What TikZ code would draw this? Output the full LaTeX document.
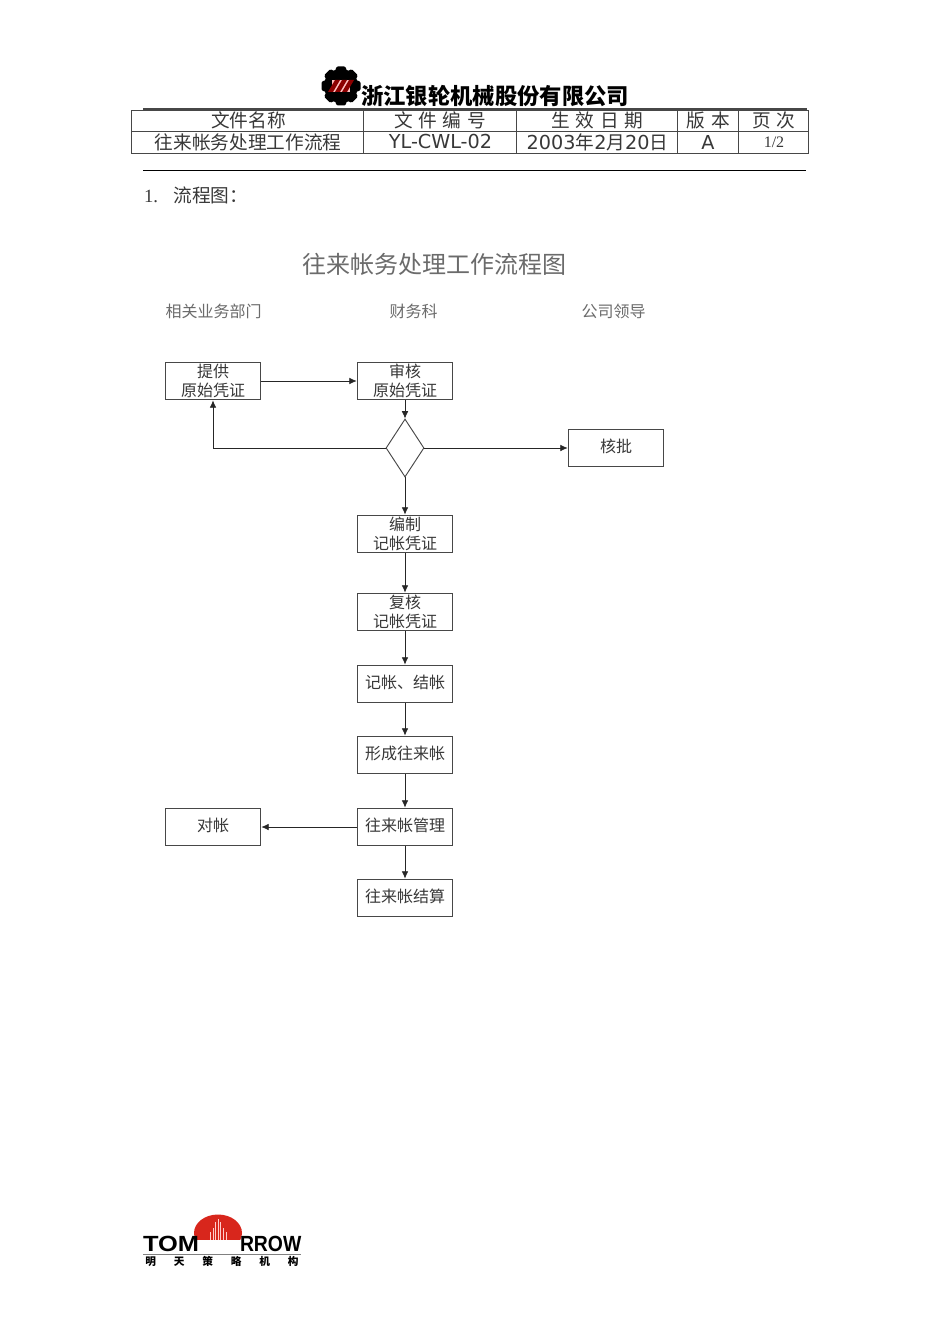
\documentclass[tikz,border=0pt]{standalone}
\usepackage{fontspec}
\usepackage{graphicx}
\setmainfont{Noto Sans CJK SC}
\newfontfamily\latinser{Liberation Serif}
\newfontfamily\latinsan[Scale=1.03]{DejaVu Sans}
\newfontfamily\logosan{Liberation Sans}
\usetikzlibrary{shapes.geometric,arrows.meta}
\definecolor{inktext}{gray}{0.22}
\definecolor{greytext}{gray}{0.42}
\definecolor{rulecol}{gray}{0.28}
\definecolor{logored}{HTML}{D8261C}
\newcommand{\fsz}[1]{\fontsize{#1}{#1}\selectfont}
\tikzset{
  x=0.75pt,y=-0.75pt,
  lbl/.style={inner sep=0pt,outer sep=0pt,text=inktext,font=\fsz{14}},
  cell/.style={lbl},
  boxbase/.style={draw=rulecol,line width=0.7pt,rectangle,minimum width=71.8pt,minimum height=28.4pt,inner sep=0pt,text=inktext},
  flowbox/.style={boxbase,font=\fsz{12},text height=9.5pt,text depth=2.5pt},
  twoline/.style={boxbase,align=center,font=\fontsize{12}{14.25}\selectfont},
  choice/.style={draw=rulecol,line width=0.7pt,diamond,aspect=0.655,minimum width=28.5pt,minimum height=43.5pt,inner sep=0pt},
  head/.style={lbl,text=greytext,font=\fsz{12}},
  flow/.style={draw=black!85,line width=0.6pt,-{Latex[length=5.5pt,width=5pt]}},
  tabline/.style={draw=rulecol,line width=0.7pt},
}
\begin{document}
\begin{tikzpicture}
\useasboundingbox[fill=white] (0,0) rectangle (950,1344);

% gear logo
\fill[black] (341,86) circle (17);
\foreach \a in {0,45,...,315}{
  \fill[black,rotate around={\a:(341,86)},rounded corners=1pt] (336.5,66.5) -- (345.5,66.5) -- (348,75) -- (334,75) -- cycle;
}
\fill[white!75!red] (332,80) rectangle (350,92);
\fill[red!55!black] (328,92) -- (335,80) -- (340,80) -- (333,92) -- cycle;
\fill[red!55!black] (335,92) -- (342,80) -- (347,80) -- (340,92) -- cycle;
\fill[red!55!black] (342,92) -- (349,80) -- (354,80) -- (347,92) -- cycle;

% header
\node[lbl,anchor=west,text=black,font=\fsz{16.75}\bfseries] (company) at (361,96) {浙江银轮机械股份有限公司};
\draw[tabline] (131.5,110) rectangle (808,153);
\draw[tabline] (131.5,131) -- (808,131);
\foreach \xx in {363.5,516.5,677.5,738.5}{\draw[tabline] (\xx,110) -- (\xx,153);}
\draw[draw=rulecol,line width=1.5pt] (143,108.8) -- (807,108.8);

\node[cell] (c1) at (248.5,120) {文件名称};
\node[cell] (c2) at (440,120) {文\hspace{4.3pt}件\hspace{4.3pt}编\hspace{4.3pt}号};
\node[cell] (c3) at (597.5,120) {生\hspace{4.3pt}效\hspace{4.3pt}日\hspace{4.3pt}期};
\node[cell] (c4) at (708.5,120) {版\hspace{4.3pt}本};
\node[cell] (c5) at (774,120) {页\hspace{4.3pt}次};
\node[cell] (d1) at (248,142) {往来帐务处理工作流程};
\node[cell] (d2) at (440.5,142) {\latinsan YL-CWL-02};
\node[cell] (d3) at (597.5,142) {{\latinsan 2003}年{\latinsan 2}月{\latinsan 20}日};
\node[cell] (d4) at (708,142) {\latinsan A};
\node[cell,font=\fsz{12}] (d5) at (774,142) {\latinser 1/2};

\draw[draw=black,line width=0.7pt] (143,170) -- (806,170);
\node[lbl,anchor=west] (sec) at (144,195) {{\latinser 1.}\hspace{11.5pt}流程图：};

% titles
\node[lbl,text=greytext,font=\fsz{18}] (title) at (434.5,264) {往来帐务处理工作流程图};
\node[head] (h1) at (213.5,311) {相关业务部门};
\node[head] (h2) at (413.5,311) {财务科};
\node[head] (h3) at (613.5,311) {公司领导};

% flow nodes
\node[twoline] (a1) at (213,381) {提供\\原始凭证};
\node[twoline] (a2) at (405,381) {审核\\原始凭证};
\node[choice]  (q)  at (405,448) {};
\node[flowbox] (a3) at (616,448) {核批};
\node[twoline] (b1) at (405,534) {编制\\记帐凭证};
\node[twoline] (b2) at (405,612) {复核\\记帐凭证};
\node[flowbox] (b3) at (405,684) {记帐、结帐};
\node[flowbox] (b4) at (405,755) {形成往来帐};
\node[flowbox] (b5) at (405,827) {往来帐管理};
\node[flowbox] (b6) at (405,898) {往来帐结算};
\node[flowbox] (b7) at (213,827) {对帐};

% connectors
\draw[flow] (a1) -- (a2);
\draw[flow] (a2) -- (q);
\draw[flow] (q.west) -| (a1.south);
\draw[flow] (q.east) -- (a3.west);
\draw[flow] (q.south) -- (b1.north);
\draw[flow] (b1) -- (b2);
\draw[flow] (b2) -- (b3);
\draw[flow] (b3) -- (b4);
\draw[flow] (b4) -- (b5);
\draw[flow] (b5) -- (b6);
\draw[flow] (b5) -- (b7);

% footer logo
\begin{scope}
\clip (190,1200) rectangle (245,1239);
\fill[logored] (218,1233) ellipse (24 and 18.5);
\end{scope}
\foreach \dx/\top in {-8/1232,-5/1228,-2.5/1222,0/1219,2.5/1222,5/1228,8/1232}{
  \draw[white!80!red,line width=0.4pt] (218+\dx,\top) -- (218+\dx,1240);
}
\node[lbl,anchor=south west,text=black] (tom) at (143,1252) {\resizebox{42pt}{11.5pt}{\logosan\bfseries TOM}};
\node[lbl,anchor=south west,text=black] (rrow) at (240,1252) {\resizebox{46pt}{11.5pt}{\logosan\bfseries RROW}};
\draw[draw=gray,line width=1pt] (143,1254.5) -- (301,1254.5);
\node[lbl,text=black,font=\fsz{8}\bfseries] (cn) at (222,1261.5) {明\hspace{13.4pt}天\hspace{13.4pt}策\hspace{13.4pt}略\hspace{13.4pt}机\hspace{13.4pt}构};
\end{tikzpicture}
\end{document}
